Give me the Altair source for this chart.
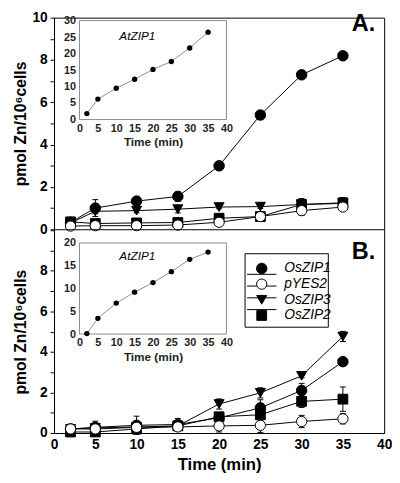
import altair as alt
import pandas as pd

# ---------------- data ----------------
time = [2, 5, 10, 15, 20, 25, 30, 35]
series = ["OsZIP1", "pYES2", "OsZIP3", "OsZIP2"]
draw_order = ["OsZIP2", "OsZIP3", "OsZIP1", "pYES2"]

# Panel A
a_oszip1 = [0.33, 1.0, 1.33, 1.55, 3.0, 5.4, 7.3, 8.2]
a_pyes2 = [0.15, 0.17, 0.17, 0.2, 0.33, 0.6, 0.88, 1.05]
a_oszip3 = [0.3, 0.85, 0.88, 0.95, 1.05, 1.07, 1.17, 1.22]
a_oszip2 = [0.35, 0.27, 0.3, 0.32, 0.52, 0.6, 1.17, 1.25]
a_err_oszip1 = [0.05, 0.4, 0.1, 0.22, 0.1, 0.1, 0.1, 0.1]
a_err_pyes2 = [0.05, 0.05, 0.05, 0.05, 0.1, 0.1, 0.22, 0.15]
a_err_oszip3 = [0.05, 0.12, 0.1, 0.18, 0.08, 0.08, 0.28, 0.28]
a_err_oszip2 = [0.05, 0.05, 0.05, 0.05, 0.08, 0.08, 0.1, 0.1]

# Panel B
b_oszip1 = [0.2, 0.28, 0.38, 0.42, 0.75, 1.24, 2.1, 3.52]
b_pyes2 = [0.2, 0.2, 0.28, 0.3, 0.35, 0.38, 0.57, 0.7]
b_oszip3 = [0.2, 0.25, 0.3, 0.35, 1.43, 1.98, 2.82, 4.76]
b_oszip2 = [0.05, 0.05, 0.2, 0.35, 0.8, 0.9, 1.56, 1.67]
b_err_oszip1 = [0.05, 0.3, 0.45, 0.3, 0.2, 0.4, 0.35, 0.15]
b_err_pyes2 = [0.05, 0.05, 0.1, 0.1, 0.3, 0.35, 0.3, 0.25]
b_err_oszip3 = [0.05, 0.05, 0.1, 0.1, 0.25, 0.25, 0.1, 0.25]
b_err_oszip2 = [0.05, 0.05, 0.1, 0.1, 0.2, 0.3, 0.3, 0.6]

# Insets (AtZIP1)
inset_a_atzip1 = [1.8, 6.2, 9.5, 12.2, 15.2, 17.6, 21.7, 26.5]
inset_b_atzip1 = [0.1, 3.45, 6.8, 9.2, 11.3, 13.7, 16.4, 18.0]

main_x_ticks = [0, 5, 10, 15, 20, 25, 30, 35, 40]
main_y_ticks = list(range(0, 11))
inset_x_ticks = [0, 5, 10, 15, 20, 25, 30, 35, 40]
inset_a_y_ticks = [0, 5, 10, 15, 20, 25, 30]
inset_b_y_ticks = [0, 5, 10, 15, 20]

FONT = "Liberation Sans"
W, H = 337, 424


def long_df(vals, errs):
    rows = []
    for s in draw_order:
        for t, v, e in zip(time, vals[s], errs[s]):
            rows.append({"time": t, "value": v, "lo": v - e, "hi": v + e, "series": s})
    return pd.DataFrame(rows)


dfA = long_df({"OsZIP1": a_oszip1, "pYES2": a_pyes2, "OsZIP3": a_oszip3, "OsZIP2": a_oszip2},
              {"OsZIP1": a_err_oszip1, "pYES2": a_err_pyes2, "OsZIP3": a_err_oszip3, "OsZIP2": a_err_oszip2})
dfB = long_df({"OsZIP1": b_oszip1, "pYES2": b_pyes2, "OsZIP3": b_oszip3, "OsZIP2": b_oszip2},
              {"OsZIP1": b_err_oszip1, "pYES2": b_err_pyes2, "OsZIP3": b_err_oszip3, "OsZIP2": b_err_oszip2})

shape_scale = alt.Scale(domain=series, range=["circle", "circle", "triangle-down", "square"])
fill_scale = alt.Scale(domain=series, range=["black", "white", "black", "black"])
size_scale = alt.Scale(domain=series, range=[115, 100, 80, 64])

main_x_scale = alt.Scale(domain=[0, 40], range=[0, W], nice=False)
yA_scale = alt.Scale(domain=[0, 10], range=[216, 0], nice=False)
yB_scale = alt.Scale(domain=[0, 10], range=[H, 217], nice=False)


def y_axis(expr):
    return alt.Axis(orient="left", values=main_y_ticks, labelExpr=expr, labelOverlap=False,
                    tickSize=4, tickColor="black", domainColor="black", grid=False,
                    labelFontSize=14, labelFontWeight="bold", labelColor="black", labelPadding=3,
                    title="pmol Zn/10⁶cells", titleFontSize=16, titleFontWeight="bold",
                    titleColor="black", titleX=-29, titleAngle=270, titleBaseline="alphabetic")


x_axis_bottom = alt.Axis(orient="bottom", values=main_x_ticks, ticks=False, grid=False,
                         domainColor="black", labelFontSize=14, labelFontWeight="bold",
                         labelColor="black", labelPadding=5, title="Time (min)",
                         titleFontSize=17, titleFontWeight="bold", titleColor="black",
                         titlePadding=5, labelFlush=False)


def main_panel(df, yscale, yaxis, xaxis):
    base = alt.Chart(df)
    X = alt.X("time:Q", scale=main_x_scale, axis=None)
    err = base.mark_rule(color="black", strokeWidth=1).encode(
        x=X, y=alt.Y("lo:Q", scale=yscale, axis=None), y2="hi:Q")
    cap_hi = base.mark_point(shape="M -1 0 L 1 0", size=36, filled=False, color="black",
                             strokeWidth=1, opacity=1).encode(
        x=X, y=alt.Y("hi:Q", scale=yscale, axis=None))
    cap_lo = base.mark_point(shape="M -1 0 L 1 0", size=36, filled=False, color="black",
                             strokeWidth=1, opacity=1).encode(
        x=X, y=alt.Y("lo:Q", scale=yscale, axis=None))
    line = base.mark_line(color="black", strokeWidth=1).encode(
        x=alt.X("time:Q", scale=main_x_scale, axis=xaxis),
        y=alt.Y("value:Q", scale=yscale, axis=yaxis),
        detail="series:N", order="time:Q")
    pts = base.mark_point(filled=True, stroke="black", strokeWidth=1, opacity=1).encode(
        x=X, y=alt.Y("value:Q", scale=yscale, axis=None),
        shape=alt.Shape("series:N", scale=shape_scale, legend=None),
        fill=alt.Fill("series:N", scale=fill_scale, legend=None),
        size=alt.Size("series:N", scale=size_scale, legend=None))
    return [err, cap_hi, cap_lo, line, pts]


def inset(vals, yticks, yrange, xoffset_bottom):
    df = pd.DataFrame({"time": time, "value": vals})
    ix = alt.Scale(domain=[inset_x_ticks[0], inset_x_ticks[-1]], range=[26, 176], nice=False)
    iy = alt.Scale(domain=[yticks[0], yticks[-1]], range=yrange, nice=False)
    frame_df = pd.DataFrame({"x": [inset_x_ticks[0]], "x2": [inset_x_ticks[-1]],
                             "y": [yticks[0]], "y2": [yticks[-1]]})
    frame = alt.Chart(frame_df).mark_rect(filled=False, stroke="#8a8a8a", strokeWidth=1).encode(
        x=alt.X("x:Q", scale=ix,
                axis=alt.Axis(orient="bottom", offset=xoffset_bottom, values=inset_x_ticks,
                              ticks=False, domain=False, grid=False, labelFontSize=11,
                              labelFontWeight="bold", labelColor="#222222", labelPadding=3,
                              labelFlush=False, title="Time (min)", titleFontSize=12,
                              titleFontWeight="bold", titleColor="#222222", titlePadding=4)),
        x2="x2:Q",
        y=alt.Y("y:Q", scale=iy,
                axis=alt.Axis(orient="left", offset=-26, values=yticks, ticks=False,
                              domain=False, grid=False, labelFontSize=11, labelFontWeight="bold",
                              labelColor="#222222", labelPadding=4, labelFlush=False, title=None)),
        y2="y2:Q")
    line = alt.Chart(df).mark_line(color="#8c8c8c", strokeWidth=1).encode(
        x=alt.X("time:Q", scale=ix, axis=None), y=alt.Y("value:Q", scale=iy, axis=None))
    pts = alt.Chart(df).mark_circle(size=30, color="black", opacity=1).encode(
        x=alt.X("time:Q", scale=ix, axis=None), y=alt.Y("value:Q", scale=iy, axis=None))
    return [frame, line, pts]


one = pd.DataFrame({"a": [0]})


def text_at(txt, x, y, size, weight="normal", style="normal", align="center", baseline="middle"):
    return alt.Chart(one).mark_text(text=txt, fontSize=size, fontWeight=weight, fontStyle=style,
                                    align=align, baseline=baseline, color="black").encode(
        x=alt.value(x), y=alt.value(y))


divider = alt.Chart(one).mark_rule(color="black", strokeWidth=1).encode(
    x=alt.value(0), x2=alt.value(W), y=alt.value(216.5))

# legend (panel B)
leg_df = pd.DataFrame({"series": series})
leg_y = alt.Y("series:N", scale=alt.Scale(domain=series, range=[256, 304], padding=0), axis=None)
leg_box = alt.Chart(one).mark_rect(fill="white", stroke="black", strokeWidth=1).encode(
    x=alt.value(195), x2=alt.value(280), y=alt.value(241), y2=alt.value(316))
leg_line = alt.Chart(leg_df).mark_rule(color="black", strokeWidth=1).encode(
    x=alt.value(197), x2=alt.value(227), y=leg_y)
leg_pts = alt.Chart(leg_df).mark_point(filled=True, stroke="black", strokeWidth=1, opacity=1).encode(
    x=alt.value(212), y=leg_y,
    shape=alt.Shape("series:N", scale=shape_scale, legend=None),
    fill=alt.Fill("series:N", scale=fill_scale, legend=None),
    size=alt.Size("series:N", scale=alt.Scale(domain=series, range=[150, 120, 90, 80]), legend=None))
leg_txt = alt.Chart(leg_df).mark_text(align="left", baseline="middle", fontSize=14,
                                      fontStyle="italic", color="black").encode(
    x=alt.value(235), y=leg_y, text="series:N")

layers = []
layers += main_panel(dfA, yA_scale, y_axis("datum.value % 2 == 0 ? datum.label : ''"), None)
layers += main_panel(dfB, yB_scale,
                     y_axis("datum.value % 2 == 0 && datum.value < 10 ? datum.label : ''"),
                     x_axis_bottom)
layers += inset(inset_a_atzip1, inset_a_y_ticks, [104, 3], -(H - 104))
layers += inset(inset_b_atzip1, inset_b_y_ticks, [323, 230], -(H - 323))
layers += [divider, leg_box, leg_line, leg_pts, leg_txt,
           text_at("A.", 328, 14, 24, weight="bold", align="right", baseline="alphabetic"),
           text_at("B.", 328, 246, 24, weight="bold", align="right", baseline="alphabetic"),
           text_at("AtZIP1", 85, 19, 12, style="italic"),
           text_at("AtZIP1", 85, 243, 12, style="italic")]

chart = alt.layer(*layers).resolve_scale(
    x="independent", y="independent"
).properties(
    width=W, height=H,
    autosize=alt.AutoSizeParams(type="none"),
    padding={"left": 47, "top": 5, "right": 8, "bottom": 38},
).configure(font=FONT).configure_view(stroke="black", strokeWidth=1)

chart.save("out.html", embed_options={"renderer": "svg", "actions": False})
